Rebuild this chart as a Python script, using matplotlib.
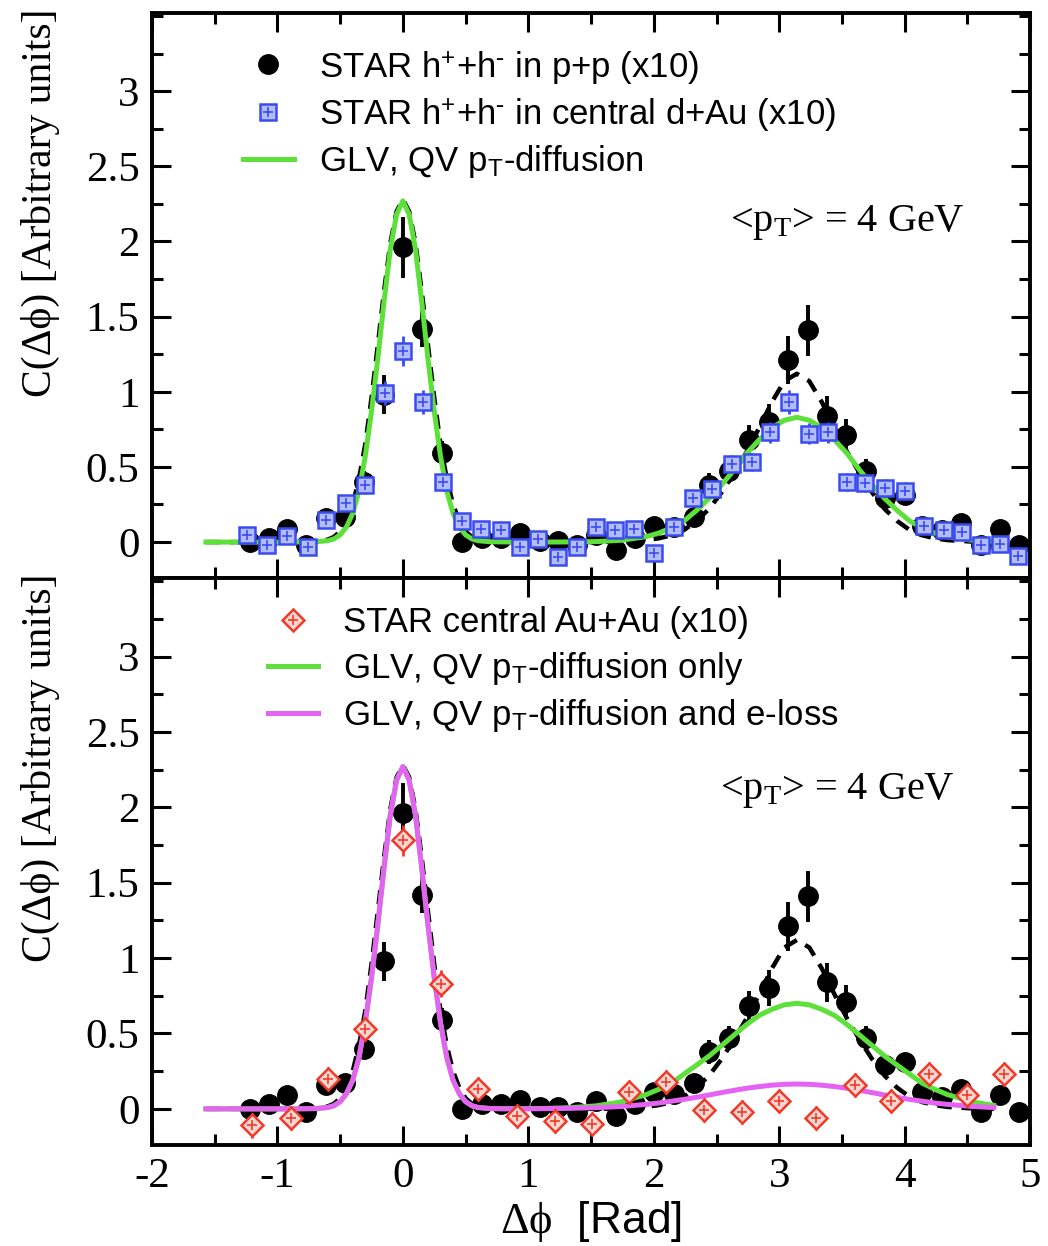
import matplotlib
matplotlib.use("Agg")
import matplotlib.pyplot as plt
from matplotlib.ticker import MultipleLocator
from matplotlib.lines import Line2D

plt.rcParams['font.family'] = ['Liberation Serif', 'DejaVu Serif']
plt.rcParams['mathtext.fontset'] = 'custom'
plt.rcParams['mathtext.rm'] = 'Liberation Serif'
plt.rcParams['mathtext.it'] = 'Liberation Serif:italic'
plt.rcParams['mathtext.sf'] = 'Liberation Sans'
plt.rcParams['axes.unicode_minus'] = False

# ---------------- data ----------------
# STAR h+ + h- in p+p (x10)
pp_x = [-1.22, -1.07, -0.92, -0.77, -0.61, -0.46, -0.31, -0.15, 0.00, 0.15, 0.31, 0.47,
        0.63, 0.78, 0.93, 1.09, 1.24, 1.39, 1.54, 1.70, 1.85, 2.00, 2.16, 2.32, 2.44, 2.60,
        2.76, 2.92, 3.07, 3.23, 3.38, 3.53, 3.69, 3.84, 4.00, 4.14, 4.30, 4.45, 4.61, 4.76, 4.91]
pp_y = [0.00, 0.03, 0.09, -0.02, 0.16, 0.17, 0.40, 0.98, 1.96, 1.42, 0.59, 0.00,
        0.03, 0.03, 0.06, 0.01, 0.01, -0.02, 0.05, -0.05, 0.03, 0.11, 0.10, 0.17, 0.38, 0.47,
        0.68, 0.80, 1.21, 1.41, 0.84, 0.71, 0.47, 0.29, 0.31, 0.11, 0.08, 0.13, -0.02, 0.09, -0.02]
pp_err = [0.04, 0.04, 0.04, 0.04, 0.05, 0.05, 0.07, 0.13, 0.20, 0.12, 0.08, 0.04,
          0.04, 0.04, 0.04, 0.04, 0.04, 0.04, 0.04, 0.04, 0.04, 0.05, 0.05, 0.06, 0.08, 0.08,
          0.10, 0.12, 0.16, 0.17, 0.13, 0.11, 0.08, 0.06, 0.06, 0.05, 0.05, 0.05, 0.04, 0.05, 0.04]

# STAR h+ + h- in central d+Au (x10)
dau_x = [-1.24, -1.08, -0.92, -0.76, -0.61, -0.45, -0.30, -0.14, 0.00, 0.16, 0.32, 0.47,
         0.62, 0.78, 0.93, 1.08, 1.24, 1.39, 1.54, 1.69, 1.84, 2.00, 2.16, 2.31, 2.46, 2.62,
         2.78, 2.93, 3.08, 3.24, 3.39, 3.54, 3.68, 3.84, 4.00, 4.15, 4.31, 4.46, 4.61, 4.76, 4.90]
dau_y = [0.05, -0.02, 0.04, -0.03, 0.15, 0.26, 0.38, 0.99, 1.27, 0.93, 0.40, 0.14,
         0.09, 0.08, -0.03, 0.02, -0.10, -0.03, 0.10, 0.08, 0.09, -0.07, 0.10, 0.29, 0.35, 0.52,
         0.53, 0.73, 0.93, 0.72, 0.73, 0.40, 0.39, 0.36, 0.34, 0.11, 0.08, 0.07, -0.02, -0.01, -0.09]
dau_err = [0.05, 0.05, 0.05, 0.05, 0.05, 0.05, 0.06, 0.08, 0.10, 0.08, 0.06, 0.05,
           0.05, 0.05, 0.05, 0.05, 0.05, 0.05, 0.05, 0.05, 0.05, 0.05, 0.05, 0.05, 0.06, 0.06,
           0.06, 0.07, 0.08, 0.07, 0.07, 0.06, 0.06, 0.06, 0.06, 0.05, 0.05, 0.05, 0.05, 0.05, 0.05]

# STAR central Au+Au (x10)
auau_x = [-1.20, -0.89, -0.60, -0.30, 0.00, 0.30, 0.60, 0.91, 1.21, 1.51, 1.80,
          2.10, 2.40, 2.70, 3.00, 3.29, 3.60, 3.89, 4.19, 4.50, 4.79]
auau_y = [-0.11, -0.06, 0.20, 0.53, 1.78, 0.83, 0.13, -0.05, -0.08, -0.10, 0.11,
          0.18, -0.01, -0.02, 0.05, -0.06, 0.16, 0.05, 0.23, 0.09, 0.23]
auau_err = [0.08, 0.08, 0.08, 0.08, 0.10, 0.09, 0.08, 0.08, 0.08, 0.08, 0.08,
            0.08, 0.08, 0.08, 0.08, 0.08, 0.08, 0.08, 0.08, 0.08, 0.08]

# theory curves
curve_x = [-1.57, -1.2, -0.9, -0.7, -0.6, -0.55, -0.5, -0.45, -0.4, -0.35, -0.3, -0.25, -0.2,
           -0.15, -0.1, -0.05, 0.0, 0.05, 0.1, 0.15, 0.2, 0.25, 0.3, 0.35, 0.4, 0.45, 0.5,
           0.55, 0.6, 0.7, 0.9, 1.14, 1.34, 1.54, 1.74, 1.94, 2.04, 2.14, 2.24, 2.34, 2.44,
           2.54, 2.64, 2.74, 2.84, 2.94, 3.04, 3.14, 3.24, 3.34, 3.44, 3.54, 3.64, 3.74, 3.84,
           3.94, 4.04, 4.14, 4.24, 4.34, 4.54, 4.71]
# p+p reference (black dashed)
pp_curve = [0.0, 0.0, 0.0, 0.003, 0.016, 0.034, 0.071, 0.14, 0.25, 0.42, 0.65, 0.96, 1.31,
            1.67, 1.99, 2.20, 2.28, 2.20, 1.99, 1.67, 1.31, 0.96, 0.65, 0.42, 0.25, 0.14, 0.071,
            0.034, 0.016, 0.003, 0.0, 0.0, 0.0, 0.0, 0.003, 0.013, 0.025, 0.045, 0.08, 0.14, 0.22,
            0.33, 0.46, 0.60, 0.76, 0.93, 1.07, 1.12, 1.07, 0.93, 0.76, 0.60, 0.46, 0.33, 0.22,
            0.14, 0.08, 0.045, 0.025, 0.013, 0.003, 0.0]
# GLV, QV pT-diffusion, d+Au (green, top)
glv_dau = [0.0, 0.0, 0.0, 0.002, 0.009, 0.021, 0.048, 0.10, 0.19, 0.34, 0.57, 0.87, 1.22,
           1.60, 1.95, 2.18, 2.27, 2.18, 1.95, 1.60, 1.22, 0.87, 0.57, 0.34, 0.19, 0.10, 0.048,
           0.021, 0.009, 0.002, 0.0, 0.0, 0.001, 0.003, 0.012, 0.036, 0.06, 0.095, 0.14, 0.21, 0.29,
           0.38, 0.48, 0.59, 0.68, 0.76, 0.81, 0.83, 0.81, 0.76, 0.68, 0.59, 0.48, 0.38, 0.29,
           0.21, 0.14, 0.095, 0.06, 0.036, 0.012, 0.004]
# GLV, QV pT-diffusion only, Au+Au (green, bottom)
glv_auau = [0.0, 0.0, 0.0, 0.002, 0.009, 0.021, 0.048, 0.10, 0.19, 0.34, 0.57, 0.87, 1.22,
            1.60, 1.95, 2.18, 2.27, 2.18, 1.95, 1.60, 1.22, 0.87, 0.57, 0.34, 0.19, 0.10, 0.048,
            0.021, 0.009, 0.002, 0.001, 0.003, 0.008, 0.020, 0.046, 0.095, 0.13, 0.17, 0.23, 0.29, 0.35,
            0.42, 0.49, 0.56, 0.62, 0.66, 0.69, 0.70, 0.69, 0.66, 0.62, 0.56, 0.49, 0.42, 0.35,
            0.29, 0.23, 0.17, 0.13, 0.095, 0.046, 0.023]
# GLV, QV pT-diffusion and e-loss, Au+Au (magenta)
glv_eloss = [0.0, 0.0, 0.0, 0.002, 0.009, 0.021, 0.048, 0.10, 0.19, 0.34, 0.57, 0.87, 1.22,
             1.60, 1.95, 2.18, 2.27, 2.18, 1.95, 1.60, 1.22, 0.87, 0.57, 0.34, 0.19, 0.10, 0.048,
             0.021, 0.009, 0.002, 0.0, 0.0015, 0.004, 0.008, 0.016, 0.030, 0.039, 0.051, 0.063, 0.077,
             0.092, 0.108, 0.123, 0.137, 0.148, 0.157, 0.163, 0.165, 0.163, 0.157, 0.148, 0.137,
             0.123, 0.108, 0.092, 0.077, 0.063, 0.051, 0.039, 0.030, 0.016, 0.009]

labels_top = [r"STAR h$^\mathsf{+}$+h$^\mathsf{\text{-}}$ in p+p (x10)",
              r"STAR h$^\mathsf{+}$+h$^\mathsf{\text{-}}$ in central d+Au (x10)",
              r"GLV, QV p$_\mathsf{T}$-diffusion"]
labels_bot = ["STAR central Au+Au (x10)",
              r"GLV, QV p$_\mathsf{T}$-diffusion only",
              r"GLV, QV p$_\mathsf{T}$-diffusion and e-loss"]
annot = r"<p$_\mathrm{T}$> = 4 GeV"
yticks = [0, 0.5, 1, 1.5, 2, 2.5, 3]
ytick_labels = ['0', '0.5', '1', '1.5', '2', '2.5', '3']
xticks = [-2, -1, 0, 1, 2, 3, 4, 5]
xtick_labels = ['-2', '-1', '0', '1', '2', '3', '4', '5']

# ---------------- style ----------------
GREEN = '#5ee03a'
MAGENTA = '#e463f2'
BLUE = '#3a4cf0'
RED = '#f03a2a'
SANS = ['Liberation Sans', 'DejaVu Sans']

fig = plt.figure(figsize=(10.48, 12.46), dpi=100)
L, R = 0.145, 0.983
ax1 = fig.add_axes([L, 0.536, R - L, 0.9896 - 0.536])
ax2 = fig.add_axes([L, 0.081, R - L, 0.536 - 0.081])


def style(ax):
    ax.set_xlim(-2, 5)
    ax.set_ylim(-0.24, 3.52)
    ax.xaxis.set_major_locator(MultipleLocator(1))
    ax.xaxis.set_minor_locator(MultipleLocator(0.5))
    ax.yaxis.set_minor_locator(MultipleLocator(0.25))
    ax.set_yticks(yticks)
    ax.set_yticklabels(ytick_labels)
    ax.tick_params(which='both', direction='in', top=True, right=True, width=2.2)
    ax.tick_params(which='major', length=14, labelsize=31, pad=9)
    ax.tick_params(which='minor', length=8)
    for s in ax.spines.values():
        s.set_linewidth(2.8)
    ax.set_ylabel("C(Δϕ) [Arbitrary units]", fontsize=30)
    ax.yaxis.set_label_coords(-0.105, 0.665)


def draw_pp(ax):
    ax.plot(curve_x, pp_curve, color='black', lw=3.2, dashes=(3.2, 2.2), zorder=1)
    ax.errorbar(pp_x, pp_y, yerr=pp_err, fmt='o', ms=14, color='black',
                elinewidth=2.8, capsize=0, zorder=2)


def open_marker(ax, x, y, err, marker, ms, color, face, z):
    ax.errorbar(x, y, yerr=err, fmt='none', ecolor=color, elinewidth=2.0,
                capsize=0, zorder=z)
    ax.plot(x, y, ls='none', marker=marker, ms=ms, mfc=face, mec=color, mew=1.8, zorder=z + 0.1)
    ax.plot(x, y, ls='none', marker='+', ms=ms * 0.6, mec=color, mew=1.2, zorder=z + 0.2)


# top panel
style(ax1)
draw_pp(ax1)
ax1.plot(curve_x, glv_dau, color=GREEN, lw=3.6, zorder=3)
open_marker(ax1, dau_x, dau_y, dau_err, 's', 11, BLUE, '#b3bcff', 4)
ax1.tick_params(labelbottom=False)
h_top = [Line2D([], [], ls='none', marker='o', ms=14, color='black'),
         (Line2D([], [], ls='none', marker='s', ms=11, mfc='#b3bcff', mec=BLUE, mew=1.8),
          Line2D([], [], ls='none', marker='+', ms=6.6, mec=BLUE, mew=1.2)),
         Line2D([], [], color=GREEN, lw=3.6)]
ax1.legend(h_top, labels_top, loc='upper left', bbox_to_anchor=(0.104, 0.937),
           frameon=False, borderpad=0, borderaxespad=0, handlelength=1.45,
           handletextpad=0.72, labelspacing=0.3, prop={'family': SANS, 'size': 25})
ax1.text(0.658, 0.63, annot, transform=ax1.transAxes, fontsize=29, va='center', ha='left')

# bottom panel
style(ax2)
draw_pp(ax2)
ax2.plot(curve_x, glv_auau, color=GREEN, lw=3.6, zorder=3)
ax2.plot(curve_x, glv_eloss, color=MAGENTA, lw=3.6, zorder=3.5)
open_marker(ax2, auau_x, auau_y, auau_err, 'D', 11.5, RED, '#ffd6cf', 4)
ax2.set_xticks(xticks)
ax2.set_xticklabels(xtick_labels)
ax2.set_xlabel(r"$\mathrm{\Delta\phi}$  [Rad]", fontsize=32, family=SANS, labelpad=2)
h_bot = [(Line2D([], [], ls='none', marker='D', ms=11.5, mfc='#ffd6cf', mec=RED, mew=1.8),
          Line2D([], [], ls='none', marker='+', ms=6.9, mec=RED, mew=1.2)),
         Line2D([], [], color=GREEN, lw=3.6),
         Line2D([], [], color=MAGENTA, lw=3.6)]
ax2.legend(h_bot, labels_bot, loc='upper left', bbox_to_anchor=(0.132, 0.95),
           frameon=False, borderpad=0, borderaxespad=0, handlelength=1.45,
           handletextpad=0.72, labelspacing=0.3, prop={'family': SANS, 'size': 25})
ax2.text(0.647, 0.626, annot, transform=ax2.transAxes, fontsize=29, va='center', ha='left')

fig.savefig('out.png', dpi=100)
